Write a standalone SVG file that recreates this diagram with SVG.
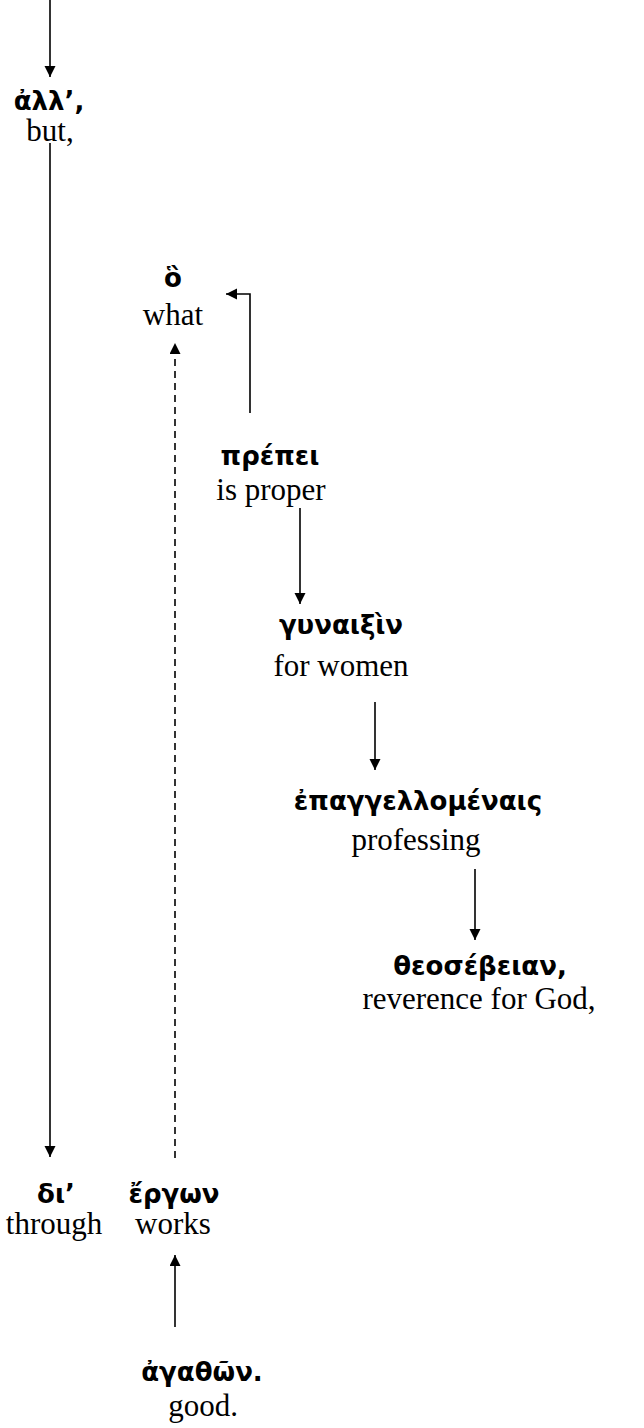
<svg xmlns="http://www.w3.org/2000/svg" width="644" height="1428" viewBox="0 0 644 1428">
<style>
.gk{font-family:"DejaVu Sans","Noto Sans",sans-serif;font-weight:bold;font-size:26px;fill:#000;text-anchor:middle}
.en{font-family:"Liberation Serif","Times New Roman",serif;font-size:31px;fill:#000;text-anchor:middle}
.ln{stroke:#000;stroke-width:1.6;fill:none}
.dash{stroke-dasharray:7,5}
</style>
<defs>
<marker id="ah" markerUnits="userSpaceOnUse" markerWidth="12" markerHeight="12" refX="11" refY="5.5" orient="auto">
<path d="M0,0 L11,5.5 L0,11 z" fill="#000"/>
</marker>
</defs>
<rect width="644" height="1428" fill="#fff"/>
<g id="connectors">
<line class="ln" x1="50" y1="0" x2="50" y2="77" marker-end="url(#ah)"/>
<line class="ln" x1="50" y1="143" x2="50" y2="1157" marker-end="url(#ah)"/>
<line class="ln dash" x1="175" y1="1158" x2="175" y2="343" marker-end="url(#ah)"/>
<polyline class="ln" points="250,413 250,294 226,294" marker-end="url(#ah)"/>
<line class="ln" x1="300" y1="508" x2="300" y2="604" marker-end="url(#ah)"/>
<line class="ln" x1="375" y1="702" x2="375" y2="770" marker-end="url(#ah)"/>
<line class="ln" x1="475" y1="869" x2="475" y2="940" marker-end="url(#ah)"/>
<line class="ln" x1="175" y1="1327" x2="175" y2="1255" marker-end="url(#ah)"/>
</g>
<g id="n-all"><text class="gk" x="49" y="110">ἀλλ’,</text><text class="en" x="50" y="141">but,</text></g>
<g id="n-ho"><text class="gk" x="173" y="287">ὃ</text><text class="en" x="173" y="325">what</text></g>
<g id="n-prepei"><text class="gk" x="270" y="465">πρέπει</text><text class="en" x="271" y="500">is proper</text></g>
<g id="n-gynaixin"><text class="gk" x="341" y="634">γυναιξὶν</text><text class="en" x="341" y="676">for women</text></g>
<g id="n-epangellomenais"><text class="gk" x="418" y="810">ἐπαγγελλομέναις</text><text class="en" x="416" y="850">professing</text></g>
<g id="n-theosebeian"><text class="gk" x="480" y="975">θεοσέβειαν,</text><text class="en" x="479" y="1009">reverence for God,</text></g>
<g id="n-di"><text class="gk" x="56" y="1203">δι’</text><text class="en" x="54" y="1234">through</text></g>
<g id="n-ergon"><text class="gk" x="174" y="1203">ἔργων</text><text class="en" x="173" y="1234">works</text></g>
<g id="n-agathon"><text class="gk" x="202" y="1381">ἀγαθῶν.</text><text class="en" x="203" y="1416">good.</text></g>
</svg>
